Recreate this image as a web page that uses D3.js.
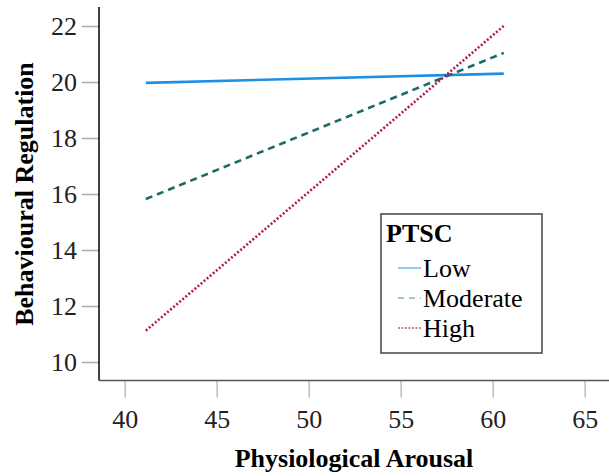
<!DOCTYPE html>
<html lang="en">
<head>
  <meta charset="UTF-8">
  <title>PTSC interaction</title>
  <style>
    body { margin: 0; background: #ffffff; }
    svg { font-family: "Liberation Serif", "DejaVu Serif", serif; }
  </style>
  <script type="text/javascript" src="https://d3js.org/d3.v7.min.js"></script>
</head>
<body>
<script type="text/javascript">

  // endpoints of each PTSC line (Physiological Arousal, Behavioural Regulation)
  var arousal = [41.15, 60.6];
  var lowValues = [19.97, 20.3];
  var moderateValues = [15.82, 21.04];
  var highValues = [11.12, 22.0];

  var seriesNames = ["Low", "Moderate", "High"];
  var xTicks = [40, 45, 50, 55, 60, 65];
  var yTicks = [10, 12, 14, 16, 18, 20, 22];

  var width = 609, height = 476;
  var serif = "'Liberation Serif', 'DejaVu Serif', serif";

  var svg = d3.select("body")
    .append("svg")
    .attr("width", width)
    .attr("height", height);

  var x = d3.scaleLinear().domain([40, 65]).range([124.7, 584.7]);
  var y = d3.scaleLinear().domain([10, 22]).range([362, 26]);

  var series = [
    {name: seriesNames[0], values: lowValues, color: "#1f8fe6", dash: null, width: 2.6},
    {name: seriesNames[1], values: moderateValues, color: "#1d6a68", dash: "7,5", width: 2.6},
    {name: seriesNames[2], values: highValues, color: "#b3185c", dash: "2,2", width: 2.6}
  ];

  // y axis
  var yAxis = svg.append("g")
    .attr("transform", "translate(99,0)")
    .call(d3.axisLeft(y).tickValues(yTicks).tickSize(17).tickPadding(5));
  yAxis.attr("font-family", serif).attr("font-size", 26);
  yAxis.select(".domain").remove();
  yAxis.selectAll(".tick line").attr("stroke", "#aaaaaa").attr("stroke-width", 1.5);
  yAxis.selectAll(".tick text").attr("fill", "#222").attr("dy", "0.34em");
  svg.append("line")
    .attr("x1", 99).attr("x2", 99)
    .attr("y1", 7).attr("y2", 380.5)
    .attr("stroke", "#000").attr("stroke-width", 1.5);

  // x axis
  var xAxis = svg.append("g")
    .attr("transform", "translate(0,380.5)")
    .call(d3.axisBottom(x).tickValues(xTicks).tickSize(17).tickPadding(12));
  xAxis.attr("font-family", serif).attr("font-size", 26);
  xAxis.select(".domain").remove();
  xAxis.selectAll(".tick line").attr("stroke", "#bbbbbb").attr("stroke-width", 1.5);
  xAxis.selectAll(".tick text").attr("fill", "#222").attr("y", 29).attr("dy", "0.71em");
  svg.append("line")
    .attr("x1", 99).attr("x2", width)
    .attr("y1", 380.5).attr("y2", 380.5)
    .attr("stroke", "#555").attr("stroke-width", 1.5);

  // lines
  var line = d3.line()
    .x(function(d, i) { return x(arousal[i]); })
    .y(function(d) { return y(d); });

  svg.selectAll("path.series")
    .data(series)
    .enter()
    .append("path")
    .attr("class", "series")
    .attr("fill", "none")
    .attr("stroke", function(d) { return d.color; })
    .attr("stroke-width", function(d) { return d.width; })
    .attr("stroke-dasharray", function(d) { return d.dash; })
    .attr("d", function(d) { return line(d.values); });

  // axis titles
  svg.append("text")
    .attr("x", 354).attr("y", 467)
    .attr("text-anchor", "middle")
    .attr("font-size", 26).attr("font-weight", "bold")
    .text("Physiological Arousal");

  svg.append("text")
    .attr("transform", "translate(33,194) rotate(-90)")
    .attr("text-anchor", "middle")
    .attr("font-size", 26).attr("font-weight", "bold")
    .text("Behavioural Regulation");

  // legend
  var legend = svg.append("g").attr("transform", "translate(381,214)");
  legend.append("rect")
    .attr("width", 161).attr("height", 139)
    .attr("fill", "#fff").attr("stroke", "#444").attr("stroke-width", 1.5);
  legend.append("text")
    .attr("x", 5).attr("y", 28)
    .attr("font-size", 26).attr("font-weight", "bold")
    .text("PTSC");

  var items = legend.selectAll("g.item")
    .data(series)
    .enter()
    .append("g")
    .attr("class", "item")
    .attr("transform", function(d, i) { return "translate(0," + (63 + i * 30) + ")"; });
  items.append("line")
    .attr("x1", 17).attr("x2", 40)
    .attr("y1", -9).attr("y2", -9)
    .attr("stroke", function(d, i) { return ["#74b8ec", "#8ab3b2", "#c9507f"][i]; })
    .attr("stroke-width", 1.5)
    .attr("stroke-dasharray", function(d, i) { return [null, "6,5", "2,1.5"][i]; });
  items.append("text")
    .attr("x", 42).attr("y", 0)
    .attr("font-size", 26)
    .text(function(d) { return d.name; });

</script>
</body>
</html>
